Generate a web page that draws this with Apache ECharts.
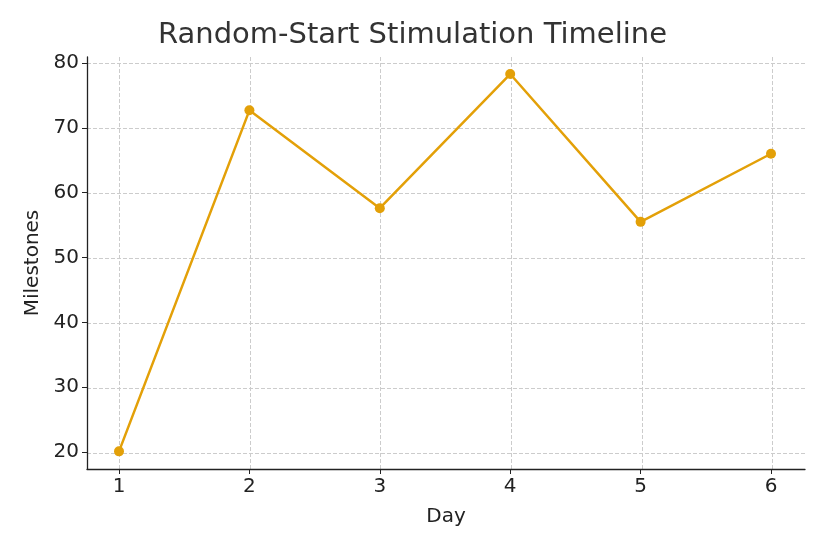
<!DOCTYPE html>
<html><head><meta charset="utf-8">
<script src="https://cdn.jsdelivr.net/npm/echarts@6/dist/echarts.min.js"></script>
<style>html,body{margin:0;padding:0;background:#fff}#c{width:825px;height:550px}</style>
</head><body><div id="c"></div>
<script>
const days = [1, 2, 3, 4, 5, 6];
const milestones = [20.1, 72.7, 57.6, 78.3, 55.5, 66.0];
const xTicks = [1, 2, 3, 4, 5, 6];
const yTicks = [20, 30, 40, 50, 60, 70, 80];

const font = 'DejaVu Sans';
const t = 'rgba(0,0,0,0)', g = '#cccccc';
const chart = echarts.init(document.getElementById('c'));
chart.setOption({
  animation: false,
  textStyle: {fontFamily: font},
  title: {text: 'Random-Start Stimulation Timeline', left: 'center', top: 16,
    textStyle: {fontFamily: font, fontSize: 29, fontWeight: 'normal', color: '#333'}},
  grid: [
    {left: 87, right: 20, top: 57, bottom: 81},
    {left: 119, right: 54, top: 63, bottom: 98}
  ],
  xAxis: [
    {type: 'value', gridIndex: 0, min: 0.75, max: 6.25, interval: 0.25,
     axisLine: {lineStyle: {color: '#222', width: 1.3}}, axisTick: {show: false}, axisLabel: {show: false},
     splitLine: {show: true, lineStyle: {type: 'dashed', color: [t, g, t, t]}},
     name: 'Day', nameLocation: 'middle', nameGap: 38,
     nameTextStyle: {fontFamily: font, fontSize: 20, color: '#222'}},
    {type: 'value', gridIndex: 1, min: xTicks[0], max: xTicks[xTicks.length-1], interval: 1, offset: 17,
     axisLine: {show: false}, axisTick: {show: true, length: 5, lineStyle: {color: '#222'}},
     axisLabel: {fontSize: 20, color: '#222', margin: 8}, splitLine: {show: false}}
  ],
  yAxis: [
    {type: 'value', gridIndex: 0, min: 17.5, max: 80.9, interval: 2.5,
     axisLine: {show: true, lineStyle: {color: '#222', width: 1.3}}, axisTick: {show: false}, axisLabel: {show: false},
     splitLine: {show: true, lineStyle: {type: 'dashed', color: [t, g, t, t]}},
     name: 'Milestones', nameLocation: 'middle', nameGap: 44,
     nameTextStyle: {fontFamily: font, fontSize: 20, color: '#222'}},
    {type: 'value', gridIndex: 1, min: yTicks[0], max: yTicks[yTicks.length-1], interval: 10, offset: 32,
     axisLine: {show: false}, axisTick: {show: true, length: 5, lineStyle: {color: '#222'}},
     axisLabel: {fontSize: 20, color: '#222', margin: 8}, splitLine: {show: false}}
  ],
  series: [{
    type: 'line', xAxisIndex: 1, yAxisIndex: 1,
    data: days.map((d, i) => [d, milestones[i]]),
    symbol: 'circle', symbolSize: 10,
    lineStyle: {color: '#E3A008', width: 2.5},
    itemStyle: {color: '#E3A008'}
  }]
});
</script></body></html>
